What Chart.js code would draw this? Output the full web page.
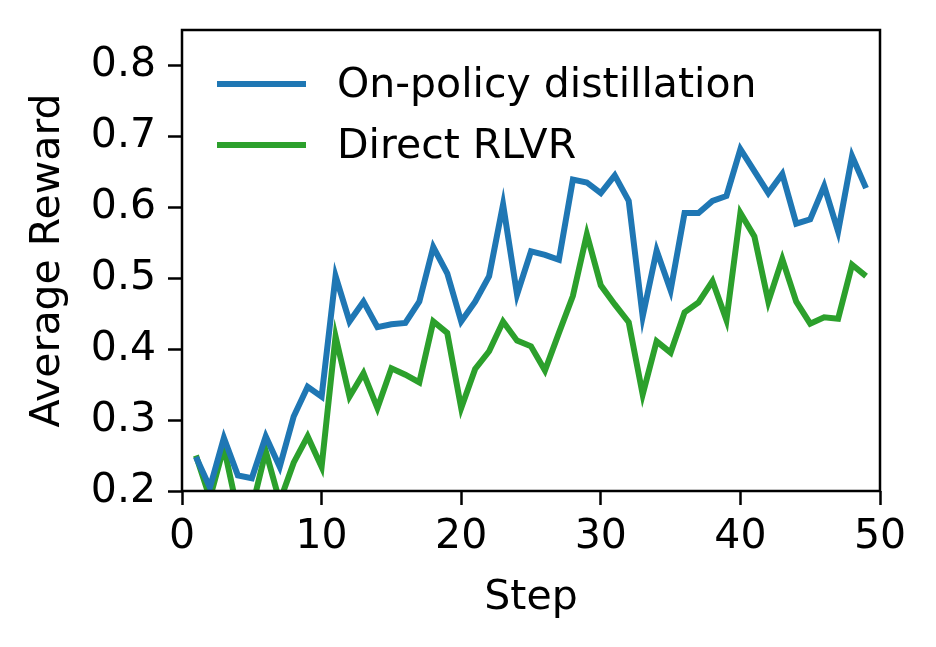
<!DOCTYPE html>
<html>
<head>
<meta charset="utf-8">
<script src="https://cdn.jsdelivr.net/npm/chart.js@4/dist/chart.umd.min.js"></script>
<style>
html,body{margin:0;padding:0;background:#fff;}
#wrap{width:936px;height:647px;}
</style>
</head>
<body>
<div id="wrap"><canvas id="c" width="936" height="647"></canvas></div>
<script>
const steps = [1,2,3,4,5,6,7,8,9,10,11,12,13,14,15,16,17,18,19,20,21,22,23,24,25,26,27,28,29,30,31,32,33,34,35,36,37,38,39,40,41,42,43,44,45,46,47,48,49];
const onPolicy = [0.248,0.205,0.275,0.222,0.218,0.277,0.234,0.305,0.347,0.333,0.503,0.439,0.467,0.431,0.435,0.437,0.467,0.544,0.507,0.439,0.467,0.503,0.604,0.477,0.538,0.533,0.526,0.639,0.635,0.620,0.645,0.609,0.446,0.539,0.483,0.592,0.592,0.609,0.616,0.682,0.651,0.620,0.647,0.577,0.583,0.630,0.566,0.672,0.627];
const directRLVR = [0.250,0.190,0.262,0.170,0.175,0.256,0.185,0.240,0.277,0.234,0.418,0.333,0.366,0.317,0.373,0.364,0.353,0.439,0.423,0.317,0.372,0.397,0.439,0.412,0.404,0.370,0.423,0.475,0.562,0.490,0.463,0.438,0.336,0.411,0.395,0.452,0.466,0.496,0.441,0.592,0.559,0.467,0.527,0.467,0.436,0.445,0.443,0.519,0.503];
const seriesNames = ["On-policy distillation", "Direct RLVR"];
const xTicks = [0,10,20,30,40,50];
const yTicks = [0.2,0.3,0.4,0.5,0.6,0.7,0.8];

const FONT = "'DejaVu Sans', sans-serif";
const FS = 41;
const LW = 6;
const colors = ["#1f77b4", "#2ca02c"];

const framePlugin = {
  id: 'frame',
  afterDatasetsDraw(chart) {
    const {ctx, chartArea: a} = chart;
    ctx.save();
    ctx.strokeStyle = '#000';
    ctx.lineWidth = 2.5;
    ctx.strokeRect(a.left, a.top, a.right - a.left, a.bottom - a.top);
    ctx.font = FS + "px " + FONT;
    ctx.textBaseline = 'middle';
    chart.data.datasets.forEach((ds, i) => {
      const y = a.top + 54 + i * 61;
      ctx.strokeStyle = ds.borderColor;
      ctx.lineWidth = LW;
      ctx.lineCap = 'butt';
      ctx.beginPath();
      ctx.moveTo(a.left + 35, y);
      ctx.lineTo(a.left + 124, y);
      ctx.stroke();
      ctx.fillStyle = '#000';
      ctx.fillText(ds.label, a.left + 155, y + 2);
    });
    ctx.restore();
  }
};

new Chart(document.getElementById('c'), {
  type: 'line',
  data: {
    datasets: [
      { label: seriesNames[0], data: steps.map((s, i) => ({x: s, y: onPolicy[i]})), borderColor: colors[0], borderWidth: LW, pointRadius: 0, fill: false, tension: 0, clip: 0 },
      { label: seriesNames[1], data: steps.map((s, i) => ({x: s, y: directRLVR[i]})), borderColor: colors[1], borderWidth: LW, pointRadius: 0, fill: false, tension: 0, clip: 0 }
    ]
  },
  options: {
    responsive: false,
    animation: false,
    devicePixelRatio: 1,
    layout: { padding: { top: 30, right: 56, bottom: 0, left: 0 } },
    plugins: { legend: { display: false }, tooltip: { enabled: false } },
    scales: {
      x: {
        type: 'linear', min: 0, max: 50,
        afterBuildTicks: (s) => { s.ticks = xTicks.map(v => ({value: v})); },
        afterFit: (s) => { s.height = 156; s.paddingLeft = 0; s.paddingRight = 0; },
        grid: { drawOnChartArea: false, drawTicks: true, tickLength: 14, tickWidth: 2.5, tickColor: '#000' },
        border: { display: false },
        ticks: { color: '#000', font: { family: FONT, size: FS }, padding: 8, maxRotation: 0, autoSkip: false, callback: v => String(v) },
        title: { display: true, text: 'Step', color: '#000', font: { family: FONT, size: FS }, padding: { top: 0, bottom: 24 } }
      },
      y: {
        type: 'linear', min: 0.2, max: 0.85,
        afterBuildTicks: (s) => { s.ticks = yTicks.map(v => ({value: v})); },
        afterFit: (s) => { s.width = 182; s.paddingTop = 0; s.paddingBottom = 0; },
        grid: { drawOnChartArea: false, drawTicks: true, tickLength: 14, tickWidth: 2.5, tickColor: '#000' },
        border: { display: false },
        ticks: { color: '#000', font: { family: FONT, size: FS }, padding: 12, autoSkip: false, callback: v => Number(v).toFixed(1) },
        title: { display: true, text: 'Average Reward', color: '#000', font: { family: FONT, size: FS }, padding: { top: 24, bottom: 0 } }
      }
    }
  },
  plugins: [framePlugin]
});
</script>
</body>
</html>
